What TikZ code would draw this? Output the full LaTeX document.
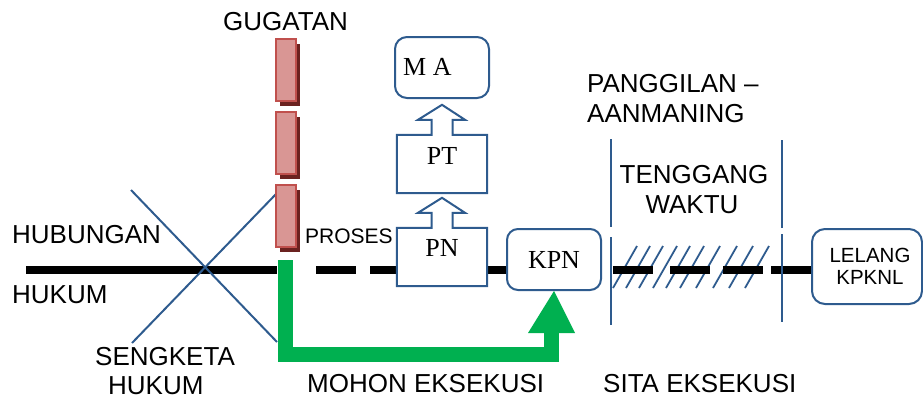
\documentclass[tikz,border=0pt]{standalone}
\usepackage{fontspec}
\setmainfont{Liberation Sans}
\newfontfamily\tnr{Liberation Serif}
\usetikzlibrary{calc,shadows}
\definecolor{boxblue}{HTML}{2E5B8E}
\definecolor{barfill}{HTML}{D99694}
\definecolor{barline}{HTML}{C0504D}
\definecolor{barshadow}{HTML}{6B2220}
\definecolor{grn}{HTML}{00B050}
\begin{document}
\begin{tikzpicture}[x=1pt,y=-1pt,
  lbl/.style={inner sep=0pt,font=\fontsize{26}{30}\selectfont},
  smalllbl/.style={inner sep=0pt,font=\fontsize{21}{24}\selectfont},
  serif/.style={inner sep=0pt,font=\tnr\fontsize{26}{30}\selectfont},
  boxnode/.style={draw=boxblue,line width=2pt,fill=white,inner sep=0pt},
  bar/.style={draw=barline,line width=2pt,fill=barfill,inner sep=0pt,
    minimum width=20pt,minimum height=62pt,
    drop shadow={fill=barshadow,opacity=1,shadow xshift=3.5pt,shadow yshift=-4.5pt}},
  mainline/.style={line width=8pt,black},
  thin/.style={draw=boxblue,line width=2pt},
  hatch/.style={draw=boxblue,line width=1.8pt}]
\useasboundingbox (0,0) rectangle (923,397);

% main black line
\coordinate (l0) at (26,270);
\coordinate (l1) at (277,270);
\draw[mainline] (l0) -- (l1);
\draw[mainline] (316,270) -- (356,270);
\draw[mainline] (370,270) -- (398,270);
\draw[mainline] (486,270) -- (508,270);

% hatches in tenggang waktu
\foreach \t in {637,650,663,677,690,704,720,737,753,769}
  \draw[hatch] ({\t-24},288) -- (\t,246);
\draw[mainline] (613,270) -- (653,270);
\draw[mainline] (670,270) -- (710,270);
\draw[mainline] (723,270) -- (763,270);
\draw[mainline] (771,270) -- (813,270);

% vertical separators
\draw[thin] (611,139) -- (611,227);
\draw[thin] (611,237) -- (611,325);
\draw[thin] (782,140) -- (782,228);
\draw[thin] (782,234) -- (782,322);

% X cross
\coordinate (x1a) at (131,190);
\coordinate (x1b) at (277,342);
\coordinate (x2a) at (132,343);
\coordinate (x2b) at (277,193);
\draw[thin] (x1a) -- (x1b);
\draw[thin] (x2a) -- (x2b);

% red bars
\node[bar] (bar1) at (286,70) {};
\node[bar] (bar2) at (286,143) {};
\node[bar] (bar3) at (286,216) {};

% boxes
\node[boxnode,rounded corners=12pt,minimum width=94pt,minimum height=61pt] (ma) at (442,67.5) {};
\node[boxnode,rounded corners=11pt,minimum width=94pt,minimum height=61pt] (kpn) at (554,259.5) {};
\node[boxnode,rounded corners=13pt,minimum width=110pt,minimum height=75pt] (lelang) at (867,266.5) {};

% PT and PN arrow boxes
\node[inner sep=0pt,minimum width=90pt,minimum height=58pt] (pt) at (442,164) {};
\node[inner sep=0pt,minimum width=90pt,minimum height=58pt] (pn) at (442,257) {};
\foreach \b in {pt,pn}{
  \draw[boxblue,line width=2pt,fill=white,line join=miter]
    (\b.south west) -- (\b.north west) -- ($(\b.north)+(-10.5,0)$)
    -- ($(\b.north)+(-10.5,-15)$) -- ($(\b.north)+(-24,-15)$)
    -- ($(\b.north)+(0,-30)$) -- ($(\b.north)+(23,-15)$)
    -- ($(\b.north)+(10.5,-15)$) -- ($(\b.north)+(10.5,0)$)
    -- (\b.north east) -- (\b.south east) -- cycle;
}

% green arrow
\coordinate (g0) at (285.5,260);
\coordinate (g1) at (551,354);
\coordinate (g2) at (551,333);
\draw[grn,line width=15pt,line join=miter] (g0) |- (g1) -- (g2);
\fill[grn] (528,333) -- (575,333) -- (kpn.south) -- cycle;

% serif texts
\node[serif,anchor=base west] (tma) at (403,75) {M A};
\node[serif,anchor=base] (tpt) at (442,164) {PT};
\node[serif,anchor=base] (tpn) at (442,256) {PN};
\node[serif,anchor=base] (tkpn) at (554,268) {KPN};

% labels
\node[lbl,anchor=base west] (gugatan) at (223,30) {GUGATAN};
\node[lbl,anchor=base west] (hub) at (12,243) {HUBUNGAN};
\node[lbl,anchor=base west] (huk) at (12,303) {HUKUM};
\node[lbl,anchor=base west] (seng) at (95,365) {SENGKETA};
\node[lbl,anchor=base west] (huk2) at (108,394) {HUKUM};
\node[smalllbl,anchor=base west] (proses) at (305,243) {PROSES};
\node[lbl,anchor=base west] (mohon) at (307,392) {MOHON EKSEKUSI};
\node[lbl,anchor=base west] (sita) at (603,392) {SITA EKSEKUSI};
\node[lbl,anchor=base west] (pang) at (587,92) {PANGGILAN –};
\node[lbl,anchor=base west] (aan) at (587,122) {AANMANING};
\node[lbl,anchor=base] (teng) at (694,183) {TENGGANG};
\node[lbl,anchor=base] (waktu) at (692,213) {WAKTU};
\node[inner sep=0pt,font=\fontsize{20.5}{24}\selectfont,anchor=base] (tlel) at (870,262) {LELANG};
\node[inner sep=0pt,font=\fontsize{20.5}{24}\selectfont,anchor=base] (tkpk) at (870,284) {KPKNL};
\end{tikzpicture}
\end{document}
